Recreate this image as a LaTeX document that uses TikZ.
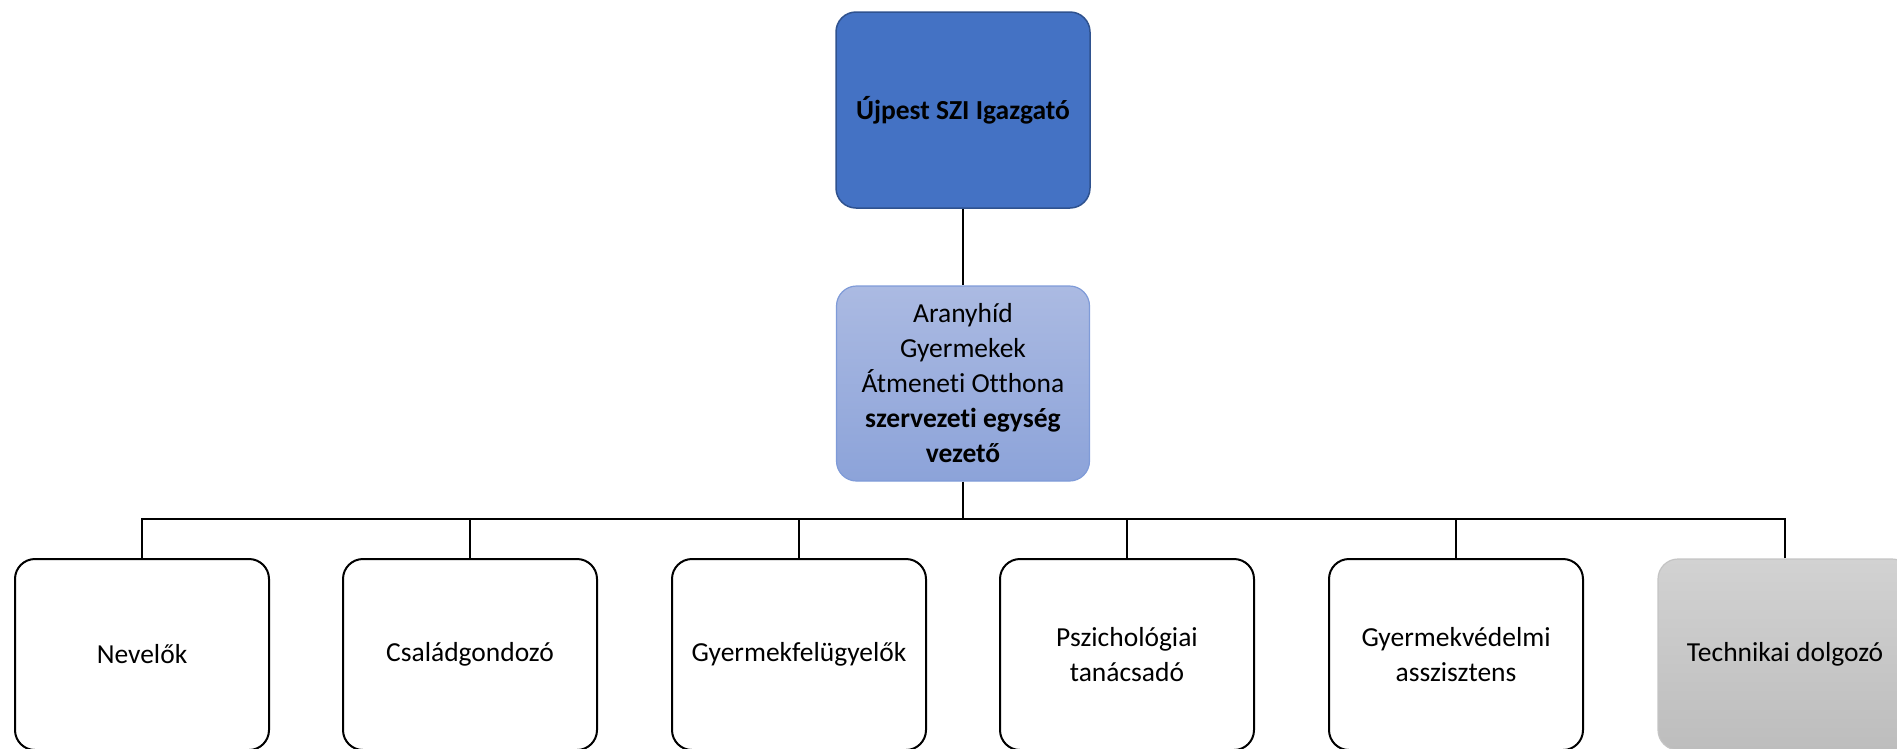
\documentclass[tikz,border=0pt]{standalone}
\usepackage{fontspec}
\setmainfont{Carlito}[Ligatures=NoCommon]
\usetikzlibrary{positioning}

\definecolor{chiefblue}{HTML}{4472C4}
\definecolor{chiefline}{HTML}{2F528F}
\definecolor{unittop}{HTML}{ABBAE2}
\definecolor{unitbottom}{HTML}{8CA3D9}
\definecolor{unitline}{HTML}{7F9BD8}
\definecolor{techtop}{HTML}{D2D2D2}
\definecolor{techbottom}{HTML}{BDBDBD}
\definecolor{techline}{HTML}{C4C4C4}

\begin{document}
\begin{tikzpicture}[x=1pt, y=-1pt,
    font=\fontsize{27.5}{35}\selectfont,
    chief/.style={rectangle, rounded corners=20pt, draw=chiefline, line width=1.5pt,
        fill=chiefblue, minimum width=254pt, minimum height=196pt, align=center},
    unit/.style={rectangle, rounded corners=20pt, draw=unitline, line width=1.2pt,
        top color=unittop, bottom color=unitbottom, minimum width=253pt,
        minimum height=195pt, align=center},
    staff/.style={rectangle, rounded corners=20pt, draw=black, line width=2pt,
        fill=white, minimum width=254pt, minimum height=191pt, align=center},
    tech/.style={rectangle, rounded corners=20pt, draw=techline, line width=1.2pt,
        top color=techtop, bottom color=techbottom, minimum width=254pt,
        minimum height=191pt, align=center},
    link/.style={draw=black, line width=2.2pt}]
    \clip (0,0) rectangle (1897,748);

    % leaders
    \node[chief] (igazgato) at (963,110) {\textbf{Újpest SZI Igazgató}};
    \node[unit] (vezeto) at (963,383.5) {Aranyhíd\\Gyermekek\\Átmeneti Otthona\\
        \textbf{szervezeti egység}\\\textbf{vezető}};

    % staff
    \node[staff] (nevelok) at (142,654.5) {Nevelők};
    \node[staff] (csaladgondozo) at (470,654.5) {Családgondozó};
    \node[staff] (felugyelok) at (799,654.5) {Gyermekfelügyelők};
    \node[staff] (pszicho) at (1127,654.5) {Pszichológiai\\tanácsadó};
    \node[staff] (vedelmi) at (1456,654.5) {Gyermekvédelmi\\asszisztens};
    \node[tech] (technikai) at (1785,654.5) {Technikai dolgozó};

    \coordinate (bus) at (963,519);

    \draw[link] (igazgato.south) -- (vezeto.north);
    \draw[link] (vezeto.south) -- (bus);
    \draw[link] (nevelok.north) |- (bus);
    \draw[link] (csaladgondozo.north) |- (bus);
    \draw[link] (felugyelok.north) |- (bus);
    \draw[link] (pszicho.north) |- (bus);
    \draw[link] (vedelmi.north) |- (bus);
    \draw[link] (technikai.north) |- (bus);
\end{tikzpicture}
\end{document}
